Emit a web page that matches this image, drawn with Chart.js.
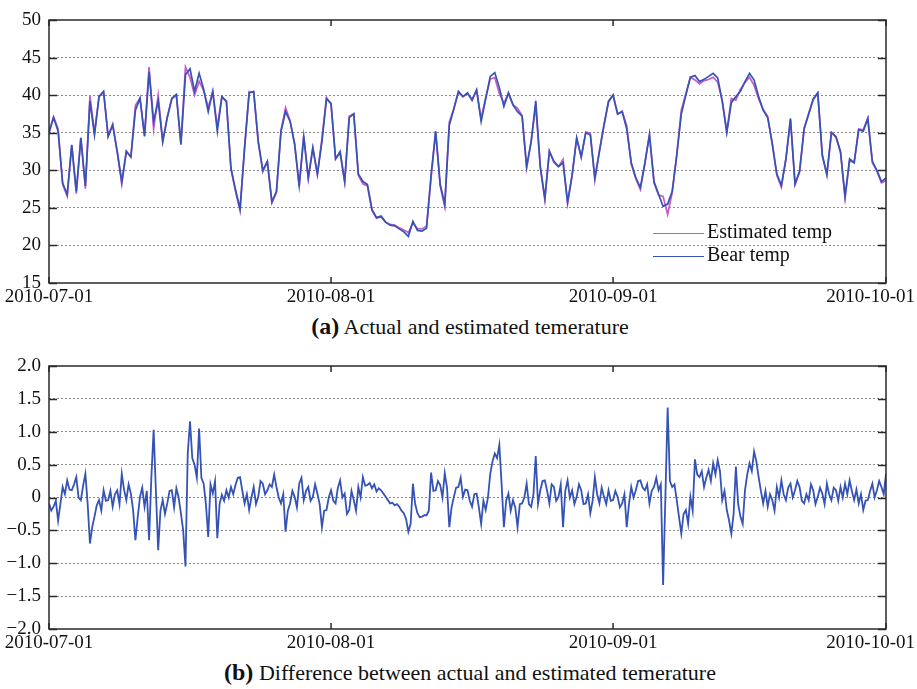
<!DOCTYPE html>
<html>
<head>
<meta charset="utf-8">
<script src="https://cdn.jsdelivr.net/npm/chart.js@4/dist/chart.umd.min.js"></script>
<style>
  body { margin: 0; background: #fff; width: 917px; height: 689px; position: relative; overflow: hidden; font-family: "Liberation Serif", "DejaVu Serif", serif; }
  canvas { position: absolute; left: 0; }
  .cap { position: absolute; left: 0; width: 940px; text-align: center; font-size: 22px; color: #111; }
  .cap b { font-size: 24px; }
  .legend { position: absolute; left: 653px; top: 220px; font-size: 20px; color: #111; }
  .legend div { height: 23px; line-height: 23px; white-space: nowrap; }
  .legend span { display: inline-block; width: 51px; height: 0; border-top: 1.5px solid; vertical-align: middle; margin-right: 3px; }
</style>
</head>
<body>
<canvas id="tempChart" width="917" height="310" style="top:0"></canvas>
<div class="cap" style="top:313px"><b>(a)</b> Actual and estimated temerature</div>
<div class="legend">
  <div><span style="border-color:#c65ac8"></span>Estimated temp</div>
  <div><span style="border-color:#3553b5"></span>Bear temp</div>
</div>
<canvas id="diffChart" width="917" height="310" style="top:346px"></canvas>
<div class="cap" style="top:659px"><b>(b)</b> Difference between actual and estimated temerature</div>
<script>
// Month boundaries (days since 2010-07-01) and their labels
const monthDays = [0, 31, 62, 92];
const monthLabels = ['2010-07-01', '2010-08-01', '2010-09-01', '2010-10-01'];

// Bear temperature, one reading every half day from 2010-07-01
const bearTemp = [
  35, 37, 35.2, 28.3, 26.8, 33.4, 27.2, 34.3, 27.9, 39.2,
  34.7, 39.8, 40.5, 34.5, 36, 32.5, 28.5, 32.5, 31.8, 38,
  39.6, 34.5, 43.1, 36.5, 39.2, 33.8, 37, 39.6, 40.1, 33.4,
  42.7, 43.5, 40.5, 42.9, 40.8, 37.8, 40.5, 35.2, 39.8, 39.2,
  30.3, 27.4, 24.9, 33, 40.3, 40.5, 33.8, 30, 31.2, 25.8,
  27.2, 35.2, 37.8, 36.5, 33.5, 28, 34.5, 29, 33, 29.5,
  33.8, 39.5, 38.9, 31.5, 32.5, 28.5, 37, 37.5, 29.5, 28.5,
  28.1, 24.8, 23.7, 23.9, 23.1, 22.7, 22.6, 22.2, 21.8, 21.2,
  23.2, 22, 21.9, 22.3, 29.4, 35.2, 28.1, 25.5, 36, 38.2,
  40.5, 39.8, 40.3, 39.3, 40.7, 36.5, 39.5, 42.5, 43, 41,
  38.5, 40.3, 38.7, 37.8, 37.2, 30.5, 33.8, 39.2, 30.5, 26.3,
  32.5, 31.2, 30.5, 31, 25.8, 29.4, 34.3, 31.8, 35, 34.7,
  29, 32.5, 36, 39.2, 40, 37.5, 37.8, 35.5, 31, 29,
  27.7, 31, 34.7, 28.5, 26.8, 25.2, 25.5, 27.2, 32, 37.5,
  40, 42.4, 42.6, 41.8, 42.1, 42.5, 42.9, 42.3, 39.2, 35,
  39, 39.8, 40.5, 41.8, 42.9, 42, 39.8, 38, 37, 33.5,
  29.5, 28, 31.5, 36.9, 28.2, 29.9, 35.5, 37.5, 39.5, 40.3,
  32, 29.5, 35, 34.5, 32.5, 26.5, 31.5, 31, 35.4, 35.2,
  36.9, 31.2, 30, 28.5, 29
];

// Actual minus estimated temperature, one reading every quarter day
const tempDiff = [
  -0.09, -0.2, -0.14, -0.05, -0.35, -0.1, 0.16, 0.05, 0.26, 0.12, 0.11, 0.2, 0.31, 0.0, -0.04, 0.18, 0.36, -0.1, -0.7, -0.45,
  -0.29, -0.12, -0.04, -0.2, 0.11, -0.05, -0.04, 0.1, -0.14, 0.05, 0.11, -0.1, 0.36, 0.12, -0.04, 0.2, 0.06, -0.2, -0.65, -0.3,
  0.01, 0.15, -0.14, 0.1, -0.65, 0.3, 1.03, 0.1, -0.8, -0.2, -0.04, -0.25, -0.09, 0.1, 0.11, -0.15, 0.14, 0.0, -0.24, -0.5,
  -1.05, 0.67, 1.16, 0.6, 0.5, 0.3, 1.05, 0.3, 0.21, -0.1, -0.6, 0.2, 0.06, 0.25, -0.62, -0.1, 0.04, -0.05, 0.11, 0.0,
  0.16, 0.05, 0.19, 0.3, 0.31, 0.1, -0.09, 0.05, -0.19, 0.0, 0.16, -0.1, 0.01, 0.25, 0.21, 0.05, 0.11, 0.2, 0.16, 0.35,
  0.16, 0.0, -0.09, 0.05, -0.52, -0.2, -0.09, 0.1, 0.01, -0.15, 0.21, 0.3, -0.04, 0.1, 0.16, -0.05, 0.01, 0.2, 0.06, -0.1,
  -0.45, -0.2, -0.19, 0.0, 0.11, -0.05, -0.09, 0.15, 0.26, 0.0, 0.06, -0.25, -0.19, 0.1, -0.04, -0.2, 0.16, 0.0, 0.31, 0.18,
  0.19, 0.22, 0.14, 0.2, 0.09, 0.14, 0.11, 0.06, 0.01, -0.04, -0.09, -0.08, -0.12, -0.1, -0.14, -0.2, -0.24, -0.33, -0.52, -0.4,
  0.21, -0.1, -0.24, -0.3, -0.29, -0.27, -0.27, -0.2, 0.38, 0.1, 0.11, 0.25, 0.19, 0.0, 0.37, 0.15, -0.45, -0.15, 0.01, 0.15,
  0.16, 0.3, 0.01, 0.12, 0.11, -0.05, -0.14, 0.05, 0.06, -0.15, -0.4, -0.05, -0.19, 0.0, 0.36, 0.55, 0.67, 0.6, 0.8, 0.2,
  -0.45, -0.05, 0.06, -0.2, -0.04, -0.15, -0.45, -0.1, -0.09, 0.0, 0.21, -0.1, -0.14, 0.05, 0.63, -0.1, 0.11, 0.25, 0.26, 0.1,
  -0.09, 0.2, 0.16, -0.05, 0.01, 0.2, -0.45, 0.1, 0.26, 0.0, 0.11, -0.1, 0.01, 0.2, 0.11, -0.1, -0.09, 0.05, -0.24, -0.05,
  0.31, 0.05, -0.09, 0.15, 0.01, -0.1, 0.11, -0.05, -0.04, 0.1, 0.01, -0.15, -0.09, 0.05, -0.45, -0.1, 0.16, 0.0, 0.11, 0.25,
  0.26, 0.15, 0.11, 0.2, -0.09, 0.1, 0.16, 0.3, 0.11, 0.2, -1.33, 0.0, 1.37, 0.25, 0.16, 0.2, -0.04, -0.3, -0.55, -0.25,
  -0.19, -0.4, 0.01, -0.2, 0.58, 0.35, 0.31, 0.4, 0.16, 0.3, 0.42, 0.25, 0.52, 0.35, 0.57, 0.4, -0.04, 0.1, -0.19, -0.35,
  -0.55, -0.25, 0.47, -0.1, -0.29, -0.4, 0.11, 0.35, 0.52, 0.4, 0.7, 0.55, 0.31, 0.1, -0.09, 0.1, -0.14, 0.05, -0.04, -0.2,
  0.16, 0.0, 0.26, 0.05, -0.04, 0.15, 0.21, 0.0, 0.11, 0.25, 0.16, -0.05, -0.09, 0.05, -0.04, 0.2, 0.11, -0.1, 0.01, 0.15,
  0.06, -0.1, 0.21, 0.05, -0.04, 0.15, 0.11, -0.05, 0.16, 0.0, 0.21, 0.05, 0.26, 0.1, -0.04, 0.12, -0.09, 0.05, -0.19, -0.05,
  -0.04, 0.1, 0.21, 0.0, 0.11, 0.25, 0.16, 0.05, 0.36
];

const tempDays = bearTemp.map((_, i) => i / 2);
const diffDays = tempDiff.map((_, i) => i / 4);
// estimated temp = actual minus the difference at the same time stamp
const estTemp = bearTemp.map((v, i) => +(v - tempDiff[i * 2]).toFixed(2));

const FONT = 'Liberation Serif';
const BLUE = '#3553b5';
const PINK = '#c65ac8';

// frame, inward ticks and date labels
const framePlugin = {
  id: 'frame',
  afterDraw(chart) {
    const { ctx, chartArea: a, scales: { x, y } } = chart;
    ctx.save();
    ctx.strokeStyle = '#2a2a2a';
    ctx.lineWidth = 1.5;
    ctx.strokeRect(a.left, a.top, a.right - a.left, a.bottom - a.top);
    ctx.beginPath();
    y.ticks.forEach(t => {
      const py = Math.round(y.getPixelForValue(t.value)) + 0.5;
      ctx.moveTo(a.left, py); ctx.lineTo(a.left + 8, py);
      ctx.moveTo(a.right, py); ctx.lineTo(a.right - 8, py);
    });
    monthDays.forEach(d => {
      const px = x.getPixelForValue(d);
      ctx.moveTo(px, a.top); ctx.lineTo(px, a.top + 6);
      ctx.moveTo(px, a.bottom); ctx.lineTo(px, a.bottom - 6);
    });
    ctx.stroke();
    ctx.fillStyle = '#111';
    ctx.font = '19px "' + FONT + '"';
    ctx.textAlign = 'center';
    ctx.textBaseline = 'top';
    monthDays.forEach((d, i) => {
      const w = ctx.measureText(monthLabels[i]).width;
      let px = x.getPixelForValue(d);
      px = Math.max(w / 2 + 2, Math.min(chart.width - w / 2 - 2, px));
      ctx.fillText(monthLabels[i], px, a.bottom + 5);
    });
    ctx.restore();
  }
};

function makeOptions(yMin, yMax, step, fmt, lineW) {
  return {
    responsive: false,
    animation: false,
    devicePixelRatio: 1,
    layout: { padding: { top: 20, right: 31, left: 0, bottom: 0 } },
    plugins: { legend: { display: false }, tooltip: { enabled: false } },
    elements: { point: { radius: 0 }, line: { borderWidth: lineW, tension: 0 } },
    scales: {
      x: {
        type: 'linear', min: 0, max: 92,
        grid: { display: false }, border: { display: false },
        ticks: { display: false },
        afterFit(s) { s.height = 27; }
      },
      y: {
        min: yMin, max: yMax,
        ticks: { stepSize: step, color: '#111', padding: 8, font: { family: FONT, size: 19 }, callback: fmt },
        grid: {
          drawTicks: false, lineWidth: 1,
          color: c => (c.tick && (c.tick.value === yMin || c.tick.value === yMax)) ? 'rgba(0,0,0,0)' : '#8a8a8a'
        },
        border: { display: false, dash: [2, 2] },
        afterFit(s) { s.width = 49; }
      }
    }
  };
}

new Chart(document.getElementById('tempChart'), {
  type: 'line',
  data: {
    datasets: [
      { label: 'Bear temp', data: bearTemp.map((v, i) => ({ x: tempDays[i], y: v })), borderColor: BLUE },
      { label: 'Estimated temp', data: estTemp.map((v, i) => ({ x: tempDays[i], y: v })), borderColor: PINK }
    ]
  },
  options: makeOptions(15, 50, 5, v => String(v), 1.7),
  plugins: [framePlugin]
});

new Chart(document.getElementById('diffChart'), {
  type: 'line',
  data: {
    datasets: [
      { label: 'Difference', data: tempDiff.map((v, i) => ({ x: diffDays[i], y: v })), borderColor: BLUE }
    ]
  },
  options: makeOptions(-2, 2, 0.5, v => Math.abs(v) < 1e-9 ? '0' : (v < 0 ? '\u2212' : '') + Math.abs(v).toFixed(1), 1.8),
  plugins: [framePlugin]
});
</script>
</body>
</html>
